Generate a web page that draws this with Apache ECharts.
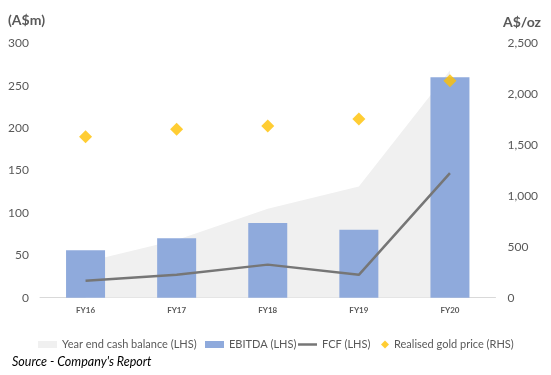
<!DOCTYPE html>
<html><head><meta charset="utf-8">
<script src="https://cdn.jsdelivr.net/npm/echarts@6/dist/echarts.min.js"></script>
<style>html,body{margin:0;padding:0;background:#fff}#c{width:551px;height:375px}</style>
</head><body><div id="c"></div>
<script>
const categories = ['FY16','FY17','FY18','FY19','FY20'];
const cashBalance = [42, 68, 105, 131, 268];
const ebitda = [56, 70, 88, 80, 260];
const fcf = [20, 27, 39, 27, 147];
const goldPrice = [1582, 1655, 1688, 1756, 2132];
const leftTicks = {min: 0, max: 300, interval: 50};
const rightTicks = {min: 0, max: 2500, interval: 500};

const FONT = 'Lato, "Liberation Sans", sans-serif';
const TXT = '#595959';
const chart = echarts.init(document.getElementById('c'), null, {renderer: 'canvas'});
const legTxt = {color: TXT, fontSize: 11, fontFamily: FONT};
chart.setOption({
  animation: false,
  textStyle: {fontFamily: FONT},
  grid: {left: 40, right: 55.5, top: 43.3, bottom: 77.3},
  graphic: [
    {type: 'text', left: 8, top: 13, style: {text: '(A$m)', fill: TXT, font: 'bold 14px ' + FONT}},
    {type: 'text', left: 503, top: 15, style: {text: 'A$/oz', fill: TXT, font: 'bold 14px ' + FONT}},
    {type: 'text', left: 12, top: 355, style: {text: "Source - Company's Report", fill: '#000', font: 'italic 12.5px ' + FONT}}
  ],
  legend: [
    {left: 33, top: 334, itemWidth: 19, itemHeight: 7, textStyle: legTxt, data: [{name: 'Year end cash balance (LHS)', icon: 'rect'}]},
    {left: 200, top: 334, itemWidth: 19, itemHeight: 7, textStyle: legTxt, data: [{name: 'EBITDA (LHS)', icon: 'rect'}]},
    {left: 293, top: 334, itemWidth: 19, itemHeight: 2.5, textStyle: legTxt, data: [{name: 'FCF (LHS)', icon: 'rect'}]},
    {left: 376, top: 334, itemWidth: 8, itemHeight: 8, textStyle: legTxt, data: [{name: 'Realised gold price (RHS)', icon: 'diamond'}]}
  ],
  xAxis: {
    type: 'category', data: categories,
    axisLine: {lineStyle: {color: '#D9D9D9', width: 1}},
    axisTick: {show: false},
    axisLabel: {color: TXT, fontSize: 8, fontWeight: 'bold', margin: 9}
  },
  yAxis: [
    {type: 'value', min: leftTicks.min, max: leftTicks.max, interval: leftTicks.interval,
     splitLine: {show: false}, axisLine: {show: false}, axisTick: {show: false},
     axisLabel: {color: TXT, fontSize: 12, margin: 11}},
    {type: 'value', min: rightTicks.min, max: rightTicks.max, interval: rightTicks.interval,
     splitLine: {show: false}, axisLine: {show: false}, axisTick: {show: false},
     axisLabel: {color: TXT, fontSize: 12, margin: 12,
       formatter: v => v.toLocaleString('en-US')}}
  ],
  series: [
    {name: 'Year end cash balance (LHS)', type: 'line', data: cashBalance, symbol: 'none',
     lineStyle: {width: 0}, itemStyle: {color: '#F0F0F0'}, areaStyle: {color: '#F0F0F0', opacity: 1}, z: 1},
    {name: 'EBITDA (LHS)', type: 'bar', data: ebitda, barWidth: 39,
     itemStyle: {color: '#8FAADC'}, z: 2},
    {name: 'FCF (LHS)', type: 'line', data: fcf, symbol: 'none',
     lineStyle: {color: '#767676', width: 2.5}, itemStyle: {color: '#767676'}, z: 3},
    {name: 'Realised gold price (RHS)', type: 'scatter', yAxisIndex: 1, data: goldPrice,
     symbol: 'diamond', symbolSize: 13, itemStyle: {color: '#FFC000'}, z: 4}
  ]
});
</script></body></html>
